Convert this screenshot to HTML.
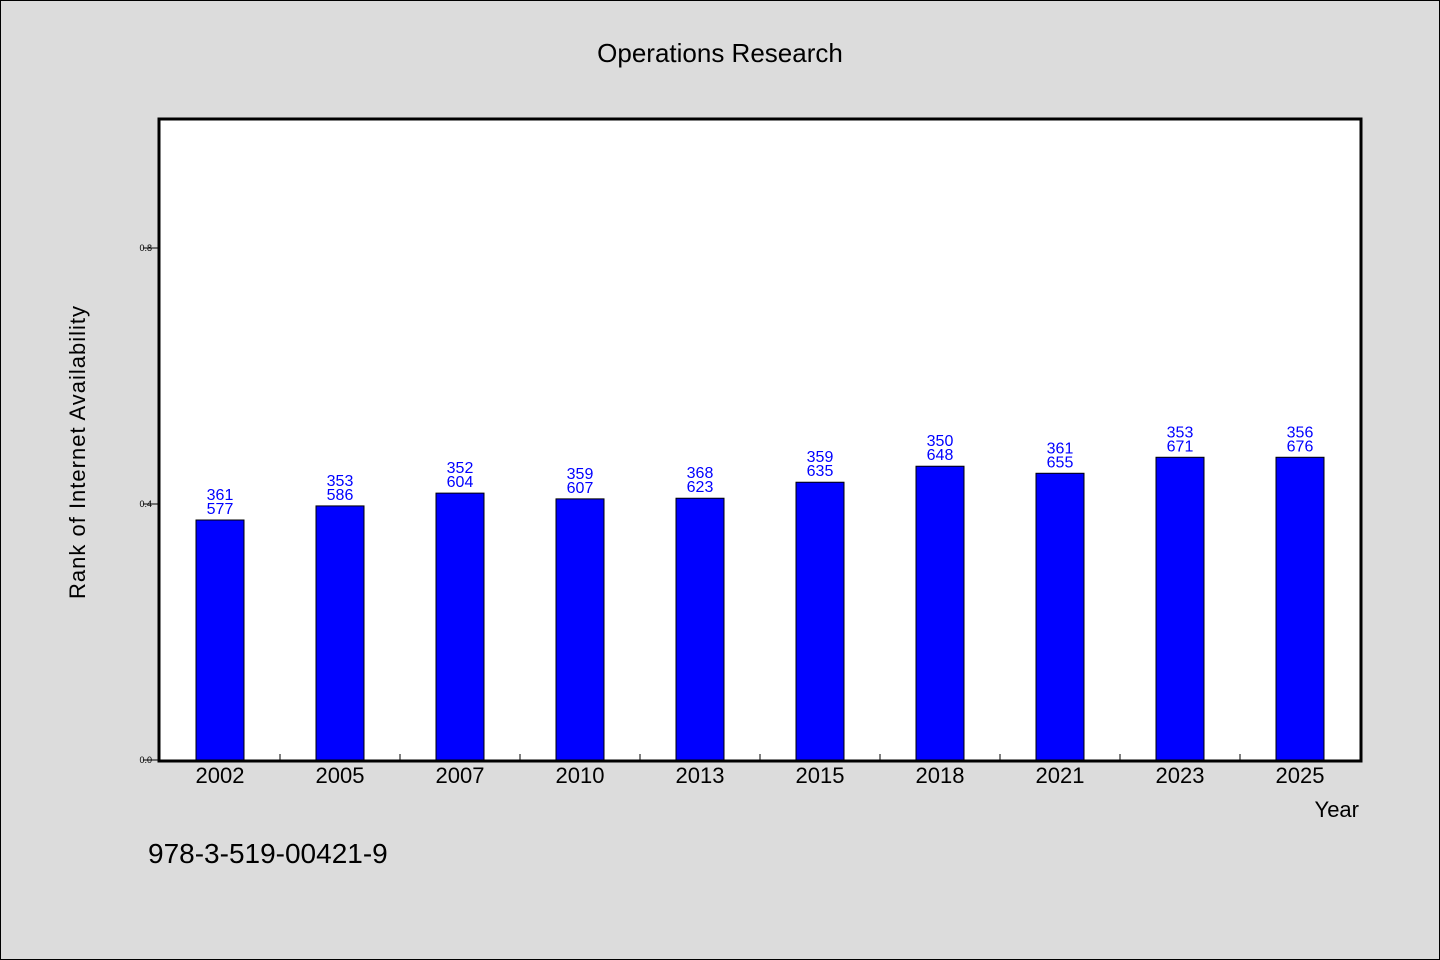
<!DOCTYPE html>
<html><head><meta charset="utf-8"><style>
body{margin:0;background:#dcdcdc;}
svg{display:block;font-family:"WenQuanYi Zen Hei","Liberation Sans",sans-serif;}
</style></head><body>
<svg id="c" width="1440" height="960">
<rect x="0.5" y="0.5" width="1439" height="959" fill="#dcdcdc" stroke="#000"/>
<text x="720" y="62" text-anchor="middle" font-size="26">Operations Research</text>
<rect x="159" y="119" width="1202" height="642" fill="#fff" stroke="#000" stroke-width="3"/>
<text transform="translate(85,452) rotate(-90)" text-anchor="middle" font-size="22" letter-spacing="1">Rank of Internet Availability</text>
<text x="1359" y="817" text-anchor="end" font-size="22">Year</text>
<text x="148" y="863" font-size="28">978-3-519-00421-9</text>
<g id="g"></g>
</svg>
<script>
const categories=["2002","2005","2007","2010","2013","2015","2018","2021","2023","2025"];
const values=[0.375,0.397,0.417,0.408,0.409,0.434,0.459,0.448,0.473,0.473];
const labelTop=["361","353","352","359","368","359","350","361","353","356"];
const labelBottom=["577","586","604","607","623","635","648","655","671","676"];
const yTicks=[0,0.4,0.8];
const yTickLabels=["0.0","0.4","0.8"];
const NS="http://www.w3.org/2000/svg";
const g=document.getElementById('g');
const X0=160,X1=1360,Y0=760,Y1=120;
const band=(X1-X0)/categories.length;
const x=i=>X0+band*(i+0.5);
const y=v=>Y0-(Y0-Y1)*v/1.0;
function mk(t,a){const e=document.createElementNS(NS,t);for(const k in a)e.setAttribute(k,a[k]);g.appendChild(e);return e;}
yTicks.forEach((v,i)=>{
 const l=mk('line',{x1:143,x2:159,y1:y(v),y2:y(v),stroke:'#000'});
 
 
 const t=mk('text',{x:152,y:y(v)+3,'text-anchor':'end','font-size':9});
 t.textContent=yTickLabels[i];
 
 
});
categories.forEach((c,i)=>{
 if(i>0){const l=mk('line',{x1:X0+band*i,x2:X0+band*i,y1:760,y2:754,stroke:'#000'});
 
 }
 const w=48;
 const r=mk('rect',{x:x(i)-w/2,y:y(values[i]),width:w,height:Y0-y(values[i]),fill:'#0000ff',stroke:'#000','stroke-width':1});
 
 
 const t1=mk('text',{x:x(i),y:y(values[i])-20,'text-anchor':'middle','font-size':16,fill:'#0000ff'});
 t1.textContent=labelTop[i];
 
 
 const t2=mk('text',{x:x(i),y:y(values[i])-6,'text-anchor':'middle','font-size':16,fill:'#0000ff'});
 t2.textContent=labelBottom[i];
 
 
 const xl=mk('text',{x:x(i),y:783,'text-anchor':'middle','font-size':22});
 xl.textContent=c;
 
 
});
</script>
</body></html>
